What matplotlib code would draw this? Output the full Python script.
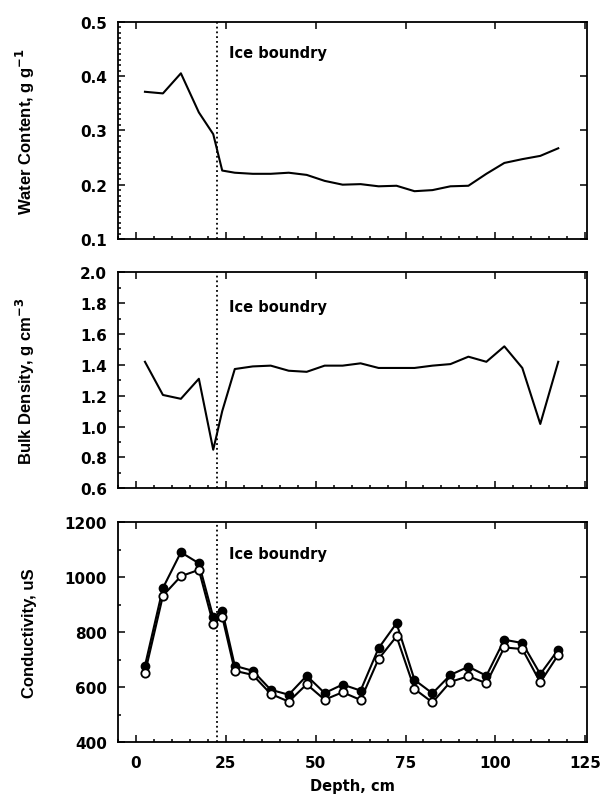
import matplotlib
matplotlib.use("Agg")
import matplotlib.pyplot as plt
from matplotlib.ticker import MultipleLocator

plt.rcParams['font.family'] = ['DejaVu Sans']
plt.rcParams['font.weight'] = 'bold'
plt.rcParams['mathtext.default'] = 'bf'

depth = [2.5, 7.5, 12.5, 17.5, 21.5, 24, 27.5, 32.5, 37.5, 42.5, 47.5, 52.5, 57.5,
         62.5, 67.5, 72.5, 77.5, 82.5, 87.5, 92.5, 97.5, 102.5, 107.5, 112.5, 117.5]

water = [0.371, 0.368, 0.405, 0.333, 0.293, 0.226, 0.222, 0.220, 0.220, 0.222, 0.218,
         0.207, 0.200, 0.201, 0.197, 0.198, 0.188, 0.190, 0.197, 0.198, 0.220, 0.240,
         0.247, 0.253, 0.267]

density = [1.42, 1.205, 1.18, 1.31, 0.85, 1.10, 1.373, 1.39, 1.395, 1.362, 1.355, 1.395,
           1.395, 1.41, 1.38, 1.38, 1.38, 1.395, 1.405, 1.453, 1.42, 1.52, 1.38, 1.017, 1.42]

cond_filled = [678, 961, 1091, 1051, 855, 879, 678, 660, 591, 573, 642, 579, 610, 588,
               742, 833, 627, 578, 645, 675, 642, 773, 761, 648, 737]
cond_open = [652, 933, 1004, 1027, 830, 857, 660, 645, 576, 548, 611, 555, 582, 554,
             703, 785, 594, 545, 620, 640, 615, 745, 739, 618, 718]

ice_depth = 22.5
ice_label = "Ice boundry"

water_ticks = ['0.1', '0.2', '0.3', '0.4', '0.5']
density_ticks = ['0.6', '0.8', '1.0', '1.2', '1.4', '1.6', '1.8', '2.0']
cond_ticks = ['400', '600', '800', '1000', '1200']
depth_ticks = ['0', '25', '50', '75', '100', '125']

LBL = dict(fontsize=12, fontweight='bold', family=['Liberation Sans Narrow', 'Liberation Sans'])

fig = plt.figure(figsize=(6.03, 8.03), dpi=100)
L, W = 118 / 603, 469 / 603
ax1 = fig.add_axes([L, 1 - 240 / 803, W, 217.3 / 803])
ax2 = fig.add_axes([L, 1 - 489.3 / 803, W, 216 / 803])
ax3 = fig.add_axes([L, 1 - 743.3 / 803, W, 220 / 803])

for ax in (ax1, ax2, ax3):
    ax.set_xlim(-5, 125.5)
    ax.xaxis.set_major_locator(MultipleLocator(25))
    ax.xaxis.set_minor_locator(MultipleLocator(5))
    ax.tick_params(which='both', direction='in', top=True, right=True,
                   labelsize=11, width=1.1, pad=8)
    ax.tick_params(which='major', length=5)
    ax.tick_params(which='minor', length=2.5, top=False, right=False)
    ax.tick_params(axis='x', pad=9)
    for s in ax.spines.values():
        s.set_linewidth(1.3)
    ax.axvline(ice_depth, color='black', linestyle=':', linewidth=1.3)
    ax.yaxis.set_label_coords(-0.173, 0.5)

ax1.plot(depth, water, color='black', linewidth=1.5)
ax1.set_ylim(0.1, 0.5)
ax1.set_yticks([float(t) for t in water_ticks])
ax1.set_yticklabels(water_ticks, fontweight='bold')
ax1.yaxis.set_minor_locator(MultipleLocator(0.01))
ax1.set_ylabel('Water Content, g g$^{-1}$', **LBL)
ax1.text(26, 0.444, ice_label, fontsize=10.5, fontweight='bold', va='center')
ax1.tick_params(axis='x', labelbottom=False)

ax2.plot(depth, density, color='black', linewidth=1.5)
ax2.set_ylim(0.6, 2.0)
ax2.set_yticks([float(t) for t in density_ticks])
ax2.set_yticklabels(density_ticks, fontweight='bold')
ax2.yaxis.set_minor_locator(MultipleLocator(0.1))
ax2.set_ylabel('Bulk Density, g cm$^{-3}$', **LBL)
ax2.text(26, 1.78, ice_label, fontsize=10.5, fontweight='bold', va='center')
ax2.tick_params(axis='x', labelbottom=False)

ax3.plot(depth, cond_filled, color='black', linewidth=1.5, marker='o', markersize=6,
         markerfacecolor='black', markeredgecolor='black', zorder=3)
ax3.plot(depth, cond_open, color='black', linewidth=1.5, marker='o', markersize=6,
         markerfacecolor='white', markeredgecolor='black', markeredgewidth=1.3, zorder=4)
ax3.set_ylim(400, 1200)
ax3.set_yticks([float(t) for t in cond_ticks])
ax3.set_yticklabels(cond_ticks, fontweight='bold')
ax3.yaxis.set_minor_locator(MultipleLocator(100))
ax3.set_ylabel('Conductivity, uS', **LBL)
ax3.text(26, 1085, ice_label, fontsize=10.5, fontweight='bold', va='center')
ax3.set_xticks([float(t) for t in depth_ticks])
ax3.set_xticklabels(depth_ticks, fontweight='bold')
ax3.set_xlabel('Depth, cm', fontsize=10.5, fontweight='bold', labelpad=6)

fig.savefig('out.png', dpi=100)
